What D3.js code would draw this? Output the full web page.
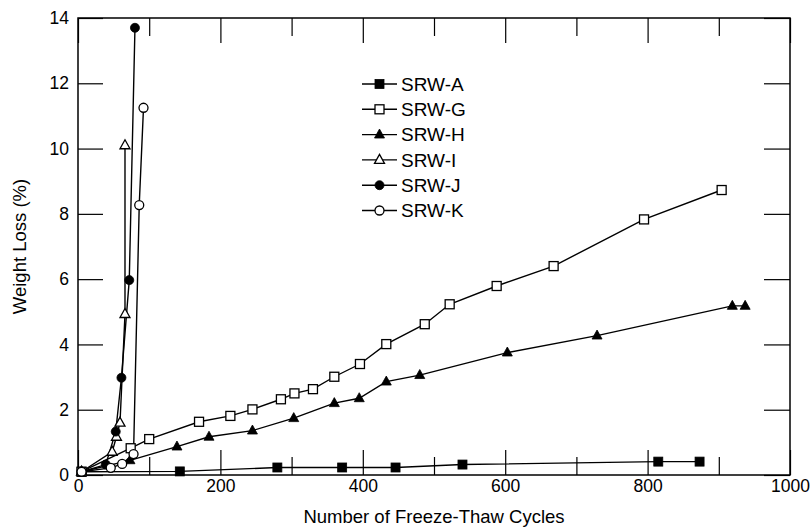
<!DOCTYPE html>
<html>
<head>
<meta charset="utf-8">
<script src="https://cdn.jsdelivr.net/npm/d3@7/dist/d3.min.js"></script>
<style>
  html, body { margin: 0; padding: 0; background: #fff; }
  svg { display: block; }
  text { font-family: "Liberation Sans", Arial, Helvetica, sans-serif; fill: #000; }
</style>
</head>
<body>
<svg id="chart" width="812" height="529"></svg>
<script>
// ---- data ----
const seriesNames = ["SRW-A", "SRW-G", "SRW-H", "SRW-I", "SRW-J", "SRW-K"];
const markerTypes = ["squareFilled", "squareOpen", "triangleFilled", "triangleOpen", "circleFilled", "circleOpen"];

const srwA_x = [5, 143, 280, 371, 446, 540, 815, 873];
const srwA_y = [0.1, 0.11, 0.23, 0.23, 0.23, 0.32, 0.41, 0.41];

const srwG_x = [5, 74, 100, 170, 214, 245, 285, 304, 330, 360, 396, 433, 487, 522, 588, 668, 795, 904];
const srwG_y = [0.1, 0.82, 1.1, 1.63, 1.81, 2.01, 2.32, 2.5, 2.63, 3.01, 3.4, 4.01, 4.62, 5.23, 5.79, 6.4, 7.83, 8.73];

const srwH_x = [5, 73, 139, 184, 245, 303, 360, 395, 433, 480, 603, 729, 919, 937];
const srwH_y = [0.1, 0.45, 0.87, 1.17, 1.36, 1.74, 2.2, 2.35, 2.86, 3.06, 3.75, 4.27, 5.18, 5.18];

const srwI_x = [5, 48, 54, 59, 66, 66];
const srwI_y = [0.1, 0.71, 1.17, 1.6, 4.93, 10.1];

const srwJ_x = [5, 39, 53, 61, 72, 80];
const srwJ_y = [0.1, 0.32, 1.33, 2.98, 5.97, 13.7];

const srwK_x = [5, 46, 62, 78, 86, 92];
const srwK_y = [0.1, 0.22, 0.34, 0.64, 8.27, 11.25];

const xTicksMajor = [0, 200, 400, 600, 800, 1000];
const xTicksMinor = [100, 300, 500, 700, 900];
const yTicks = [0, 2, 4, 6, 8, 10, 12, 14];
const xTitle = "Number of Freeze-Thaw Cycles";
const yTitle = "Weight Loss (%)";

// ---- layout ----
const W = 812, H = 529;
const m = { left: 78, right: 22, top: 18, bottom: 54 };
const svg = d3.select("#chart");

const x = d3.scaleLinear().domain([0, 1000]).range([m.left, W - m.right]);
const y = d3.scaleLinear().domain([0, 14]).range([H - m.bottom, m.top]);

const series = [
  { name: seriesNames[0], type: markerTypes[0], xs: srwA_x, ys: srwA_y },
  { name: seriesNames[1], type: markerTypes[1], xs: srwG_x, ys: srwG_y },
  { name: seriesNames[2], type: markerTypes[2], xs: srwH_x, ys: srwH_y },
  { name: seriesNames[3], type: markerTypes[3], xs: srwI_x, ys: srwI_y },
  { name: seriesNames[4], type: markerTypes[4], xs: srwJ_x, ys: srwJ_y },
  { name: seriesNames[5], type: markerTypes[5], xs: srwK_x, ys: srwK_y }
].map(s => ({ ...s, pts: s.xs.map((v, i) => [v, s.ys[i]]) }));

// ---- axes (ticks inward, on all four sides) ----
const gAx = svg.append("g");
const bottomMajor = d3.axisBottom(x).tickValues(xTicksMajor).tickSize(-25).tickPadding(5).tickFormat(d3.format("d"));
const bottomMinor = d3.axisBottom(x).tickValues(xTicksMinor).tickSize(-18).tickFormat("");
const topMajor = d3.axisTop(x).tickValues(xTicksMajor).tickSize(-25).tickFormat("");
const topMinor = d3.axisTop(x).tickValues(xTicksMinor).tickSize(-18).tickFormat("");
const leftAx = d3.axisLeft(y).tickValues(yTicks).tickSize(-25).tickPadding(9).tickFormat(d3.format("d"));
const rightAx = d3.axisRight(y).tickValues(yTicks).tickSize(-26).tickFormat("");

function styleAxis(g) {
  g.select(".domain").remove();
  g.selectAll(".tick line").attr("stroke", "#000").attr("stroke-width", 1.2);
  g.selectAll("text").attr("font-size", 17.5).style("font-family", "'Liberation Sans', Arial, sans-serif").attr("fill", "#000");
}
gAx.append("g").attr("transform", `translate(0,${y(0)})`).call(bottomMajor).call(styleAxis);
gAx.append("g").attr("transform", `translate(0,${y(0)})`).call(bottomMinor).call(styleAxis);
gAx.append("g").attr("transform", `translate(0,${y(14)})`).call(topMajor).call(styleAxis);
gAx.append("g").attr("transform", `translate(0,${y(14)})`).call(topMinor).call(styleAxis);
gAx.append("g").attr("transform", `translate(${x(0)},0)`).call(leftAx).call(styleAxis);
gAx.append("g").attr("transform", `translate(${x(1000)},0)`).call(rightAx).call(styleAxis);

// frame
svg.append("rect")
  .attr("x", x(0)).attr("y", y(14))
  .attr("width", x(1000) - x(0)).attr("height", y(0) - y(14))
  .attr("fill", "none").attr("stroke", "#000").attr("stroke-width", 1.5);

// titles
svg.append("text").attr("x", (x(0) + x(1000)) / 2).attr("y", 523)
  .attr("text-anchor", "middle").attr("font-size", 18.5).text(xTitle);
svg.append("text").attr("transform", `translate(26,${(y(0) + y(14)) / 2}) rotate(-90)`)
  .attr("text-anchor", "middle").attr("font-size", 18.5).text(yTitle);

// ---- markers ----
function drawMarker(g, type, cx, cy) {
  const filled = type.endsWith("Filled");
  const fill = filled ? "#000" : "#fff";
  if (type.startsWith("square")) {
    const s = 9;
    g.append("rect").attr("x", cx - s / 2).attr("y", cy - s / 2).attr("width", s).attr("height", s)
      .attr("fill", fill).attr("stroke", "#000").attr("stroke-width", filled ? 0.8 : 1.3);
  } else if (type.startsWith("triangle")) {
    const s = 10;
    const h = s * 0.9;
    g.append("path").attr("d", `M${cx},${cy - h * 0.62}L${cx + s / 2},${cy + h * 0.38}L${cx - s / 2},${cy + h * 0.38}Z`)
      .attr("fill", fill).attr("stroke", "#000").attr("stroke-width", filled ? 0.8 : 1.3);
  } else {
    g.append("circle").attr("cx", cx).attr("cy", cy).attr("r", 4.5)
      .attr("fill", fill).attr("stroke", "#000").attr("stroke-width", filled ? 0.8 : 1.3);
  }
}

const line = d3.line().x(d => x(d[0])).y(d => y(d[1]));
const gData = svg.append("g");
series.forEach(s => {
  gData.append("path").attr("d", line(s.pts)).attr("fill", "none")
    .attr("stroke", "#000").attr("stroke-width", 1.4);
});
series.forEach(s => {
  const g = gData.append("g");
  s.pts.forEach(p => drawMarker(g, s.type, x(p[0]), y(p[1])));
});

// ---- legend ----
const legend = svg.append("g");
const lgX0 = 362, lgX1 = 397, lgY0 = 84, lgDy = 25.3;
series.forEach((s, i) => {
  const yy = lgY0 + i * lgDy;
  legend.append("line").attr("x1", lgX0).attr("x2", lgX1).attr("y1", yy).attr("y2", yy)
    .attr("stroke", "#000").attr("stroke-width", 1.4);
  drawMarker(legend, s.type, (lgX0 + lgX1) / 2, yy);
  legend.append("text").attr("x", lgX1 + 4).attr("y", yy).attr("dy", "0.36em")
    .attr("font-size", 19).text(s.name);
});
</script>
</body>
</html>
